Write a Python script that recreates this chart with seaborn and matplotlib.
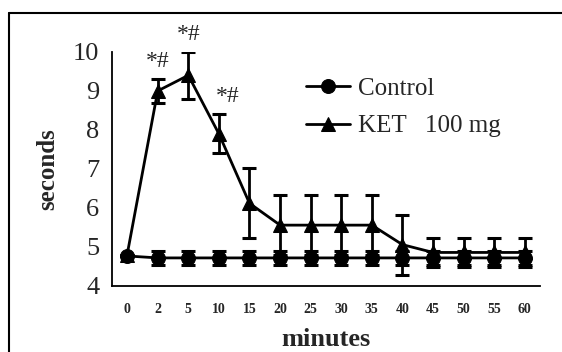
import matplotlib
matplotlib.use("Agg")
import matplotlib.pyplot as plt
import seaborn as sns
import pandas as pd
import numpy as np

# Sampling times (minutes)
minutes = ["0", "2", "5", "10", "15", "20", "25", "30", "35", "40", "45", "50", "55", "60"]

# Mean withdrawal latency (seconds) and SD
control_mean = [4.77, 4.72, 4.72, 4.72, 4.72, 4.72, 4.72, 4.72, 4.72, 4.72, 4.72, 4.72, 4.72, 4.72]
control_sd = [0.0, 0.18, 0.18, 0.18, 0.18, 0.18, 0.18, 0.18, 0.18, 0.18, 0.18, 0.18, 0.18, 0.18]
ket_mean = [4.80, 9.0, 9.4, 7.9, 6.12, 5.56, 5.56, 5.56, 5.56, 5.06, 4.86, 4.86, 4.86, 4.86]
ket_sd = [0.0, 0.3, 0.6, 0.5, 0.9, 0.77, 0.77, 0.77, 0.77, 0.77, 0.37, 0.37, 0.37, 0.37]

# Significance marks
sig_labels = ["", "*#", "*#", "*#", "", "", "", "", "", "", "", "", "", ""]

sns.set_theme(style="white")
plt.rcParams["font.family"] = ["Liberation Serif", "DejaVu Serif"]

pos = np.arange(len(minutes))
df = pd.concat([
    pd.DataFrame({"pos": pos, "value": control_mean, "sd": control_sd, "group": "Control"}),
    pd.DataFrame({"pos": pos, "value": ket_mean, "sd": ket_sd, "group": "KET   100 mg"}),
])

fig = plt.figure(figsize=(5.62, 3.52), dpi=100)
ax = fig.add_axes([0.199, 0.1875, 0.762, 0.665])

sns.lineplot(data=df, x="pos", y="value", hue="group", style="group",
             markers={"Control": "o", "KET   100 mg": "^"}, dashes=False,
             palette={"Control": "black", "KET   100 mg": "black"},
             markersize=10, linewidth=2, markeredgecolor="black",
             ax=ax, zorder=3)

for g, sub in df.groupby("group"):
    ax.errorbar(sub["pos"], sub["value"], yerr=sub["sd"], fmt="none",
                ecolor="black", elinewidth=2, capsize=5, capthick=2.2, zorder=2)

for p, m, s, lab in zip(pos, ket_mean, ket_sd, sig_labels):
    if lab:
        ax.text(p + (0.3 if p == 3 else 0.0), m + s + 0.45, lab,
                ha="center", va="center", fontsize=17)

ax.set_xlim(-0.5, len(minutes) - 0.5)
ax.set_ylim(4, 10)
ax.set_yticks(range(4, 11))
ax.set_yticklabels([str(v) for v in range(4, 11)], fontsize=19)
ax.set_xticks(pos)
ax.set_xticklabels(minutes, fontsize=10, fontweight="bold")
ax.set_xticks(np.arange(-0.5, len(minutes)), minor=True)
ax.tick_params(axis="x", which="major", length=0, pad=12)
ax.tick_params(axis="x", which="minor", length=4, width=1.2, direction="out", color="black")
ax.tick_params(axis="y", length=6, width=1.2, direction="out", color="black", pad=3)

ax.set_xlabel("minutes", fontsize=19, fontweight="bold", labelpad=9)
ax.set_ylabel("seconds", fontsize=18, fontweight="bold", labelpad=10)

for side in ["top", "right"]:
    ax.spines[side].set_visible(False)
for side in ["left", "bottom"]:
    ax.spines[side].set_color("black")
    ax.spines[side].set_linewidth(1.3)

leg = ax.legend(loc="upper left", bbox_to_anchor=(0.425, 0.945), frameon=False,
                fontsize=18, handlelength=1.75, handletextpad=0.3,
                labelspacing=0.6, borderpad=0)
leg.set_title(None)

# Outer frame lines of the figure panel
fig.add_artist(plt.Line2D([9 / 562, 1.0], [1 - 13 / 352, 1 - 13 / 352],
                          transform=fig.transFigure, color="black", lw=1.5))
fig.add_artist(plt.Line2D([9 / 562, 9 / 562], [0.0, 1 - 13 / 352],
                          transform=fig.transFigure, color="black", lw=1.5))

fig.savefig("out.png", dpi=100)
